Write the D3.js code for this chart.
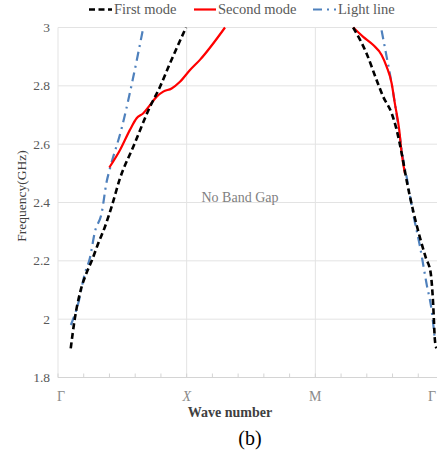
<!DOCTYPE html>
<html>
<head>
<meta charset="utf-8">
<script src="https://cdn.jsdelivr.net/npm/d3@7"></script>
<style>
  body { margin: 0; background: #fff; overflow: hidden; }
  svg { display: block; }
  svg text { font-family: "Liberation Serif", "DejaVu Serif", serif; }
</style>
</head>
<body>
<div id="chart"></div>
<script>
// k-path positions: Γ=0, X=1, M=2, Γ=3
var kLabels = ["Γ", "X", "M", "Γ"];
var yTicks = [1.8, 2, 2.2, 2.4, 2.6, 2.8, 3];

// first mode (black dashed)
var firstLeftK = [0.099, 0.13, 0.171, 0.223, 0.262, 0.313, 0.365, 0.417, 0.482, 0.585, 0.715, 0.793, 0.87, 0.995];
var firstLeftF = [1.90, 2.0, 2.09, 2.16, 2.20, 2.26, 2.317, 2.386, 2.483, 2.591, 2.728, 2.797, 2.877, 3.0];
var firstRightK = [2.294, 2.399, 2.476, 2.528, 2.593, 2.632, 2.671, 2.709, 2.761, 2.813, 2.859, 2.896, 2.916, 2.929, 2.941];
var firstRightF = [3.0, 2.91, 2.82, 2.762, 2.706, 2.649, 2.569, 2.477, 2.37, 2.28, 2.21, 2.16, 2.05, 1.93, 1.90];

// second mode (red solid)
var secondLeftK = [0.399, 0.482, 0.559, 0.611, 0.663, 0.715, 0.767, 0.818, 0.883, 0.948, 1.026, 1.103, 1.298];
var secondLeftF = [2.52, 2.58, 2.649, 2.689, 2.706, 2.734, 2.763, 2.78, 2.791, 2.814, 2.854, 2.889, 3.0];
var secondRightK = [2.294, 2.372, 2.45, 2.515, 2.554, 2.593, 2.618, 2.652, 2.671, 2.696];
var secondRightF = [3.0, 2.968, 2.94, 2.906, 2.866, 2.809, 2.74, 2.649, 2.569, 2.50];

// light line (blue dash-dot)
var lightLeftK = [0.1, 0.157, 0.209, 0.248, 0.287, 0.339, 0.378, 0.404, 0.495, 0.585, 0.663];
var lightLeftF = [1.98, 2.054, 2.157, 2.21, 2.30, 2.363, 2.471, 2.517, 2.655, 2.83, 3.0];
var lightRightK = [2.515, 2.554, 2.58, 2.618, 2.657, 2.683, 2.709, 2.761, 2.813, 2.865, 2.904, 2.929];
var lightRightF = [2.99, 2.90, 2.84, 2.74, 2.626, 2.546, 2.489, 2.36, 2.25, 2.12, 2.03, 1.93];

var W = 437, H = 454;
var margin = {top: 27.5, left: 58},
    plotW = 386, plotH = 350;

var svg = d3.select("#chart").append("svg")
    .attr("width", W).attr("height", H);

var x = d3.scaleLinear().domain([0, 3]).range([margin.left, margin.left + plotW]);
var y = d3.scaleLinear().domain([1.8, 3]).range([margin.top + plotH, margin.top]);

// horizontal gridlines
svg.append("g").selectAll("line").data(yTicks).enter().append("line")
    .attr("x1", x(0)).attr("x2", x(3))
    .attr("y1", d => y(d)).attr("y2", d => y(d))
    .attr("stroke", "#e3e3e3").attr("stroke-width", 1);

// vertical gridlines at X, M
svg.append("g").selectAll("line").data([1, 2]).enter().append("line")
    .attr("x1", d => x(d)).attr("x2", d => x(d))
    .attr("y1", y(3)).attr("y2", y(1.8))
    .attr("stroke", "#e3e3e3").attr("stroke-width", 1);

// left axis line
svg.append("line")
    .attr("x1", x(0)).attr("x2", x(0)).attr("y1", y(3)).attr("y2", y(1.8))
    .attr("stroke", "#e3e3e3");

// bottom axis with minor ticks
svg.append("line")
    .attr("x1", x(0)).attr("x2", x(3)).attr("y1", y(1.8)).attr("y2", y(1.8))
    .attr("stroke", "#d4d4d4");
svg.append("g").selectAll("line").data(d3.range(0, 3.001, 0.2)).enter().append("line")
    .attr("x1", d => x(d)).attr("x2", d => x(d))
    .attr("y1", y(1.8)).attr("y2", y(1.8) - 4)
    .attr("stroke", "#d4d4d4");

// y tick labels
svg.append("g").selectAll("text").data(yTicks).enter().append("text")
    .attr("x", x(0) - 8).attr("y", d => y(d) + 4.5)
    .attr("text-anchor", "end")
    .attr("font-size", 13.5).attr("fill", "#595959")
    .text(d => d);

// x tick labels (last one pulled in so it stays on the page)
svg.append("g").selectAll("text").data(kLabels).enter().append("text")
    .attr("x", (d, i) => i === 0 ? x(i) + 3 : i === 3 ? W - 1 : x(i))
    .attr("y", y(1.8) + 23)
    .attr("text-anchor", (d, i) => i === 3 ? "end" : "middle")
    .attr("font-size", 14).attr("fill", "#8a8a8a")
    .attr("font-style", (d, i) => i === 1 ? "italic" : "normal")
    .text(d => d);

// axis titles
svg.append("text")
    .attr("x", 230).attr("y", 417)
    .attr("text-anchor", "middle").attr("font-size", 14)
    .attr("font-weight", "bold").attr("fill", "#404040")
    .text("Wave number");
svg.append("text")
    .attr("transform", "translate(26,196) rotate(-90)")
    .attr("text-anchor", "middle").attr("font-size", 13.5).attr("fill", "#404040")
    .text("Frequency(GHz)");
svg.append("text")
    .attr("x", 250).attr("y", 445)
    .attr("text-anchor", "middle").attr("font-size", 20).attr("fill", "#000")
    .text("(b)");

svg.append("text")
    .attr("x", 240).attr("y", 202)
    .attr("text-anchor", "middle").attr("font-size", 14).attr("fill", "#7f7f7f")
    .text("No Band Gap");

// curves
var line = d3.line().x(d => x(d[0])).y(d => y(d[1])).curve(d3.curveMonotoneX);
var zip = (a, b) => a.map((v, i) => [v, b[i]]);

var series = [
  {k: lightLeftK, f: lightLeftF, color: "#4f81bd", w: 2.2, dash: "9,5,2,5"},
  {k: lightRightK, f: lightRightF, color: "#4f81bd", w: 2.2, dash: "9,5,2,5"},
  {k: secondLeftK, f: secondLeftF, color: "#ff0000", w: 2.2, dash: null},
  {k: secondRightK, f: secondRightF, color: "#ff0000", w: 2.2, dash: null},
  {k: firstLeftK, f: firstLeftF, color: "#000", w: 2.6, dash: "6,3.5"},
  {k: firstRightK, f: firstRightF, color: "#000", w: 2.6, dash: "6,3.5"}
];
svg.append("g").selectAll("path").data(series).enter().append("path")
    .attr("d", d => line(zip(d.k, d.f)))
    .attr("fill", "none")
    .attr("stroke", d => d.color)
    .attr("stroke-width", d => d.w)
    .attr("stroke-dasharray", d => d.dash);

// legend
var legend = [
  {name: "First mode", color: "#000", w: 2.6, dash: "6,3.5", x1: 89, x2: 112},
  {name: "Second mode", color: "#ff0000", w: 2.2, dash: null, x1: 194, x2: 216},
  {name: "Light line", color: "#4f81bd", w: 2.2, dash: "9,5,2,5", x1: 313, x2: 336}
];
var lg = svg.append("g").selectAll("g").data(legend).enter().append("g");
lg.append("line")
    .attr("x1", d => d.x1).attr("x2", d => d.x2).attr("y1", 9.5).attr("y2", 9.5)
    .attr("stroke", d => d.color).attr("stroke-width", d => d.w)
    .attr("stroke-dasharray", d => d.dash);
lg.append("text")
    .attr("x", d => d.x2 + 2).attr("y", 14)
    .attr("font-size", 14.5).attr("fill", "#595959")
    .text(d => d.name);
</script>
</body>
</html>
